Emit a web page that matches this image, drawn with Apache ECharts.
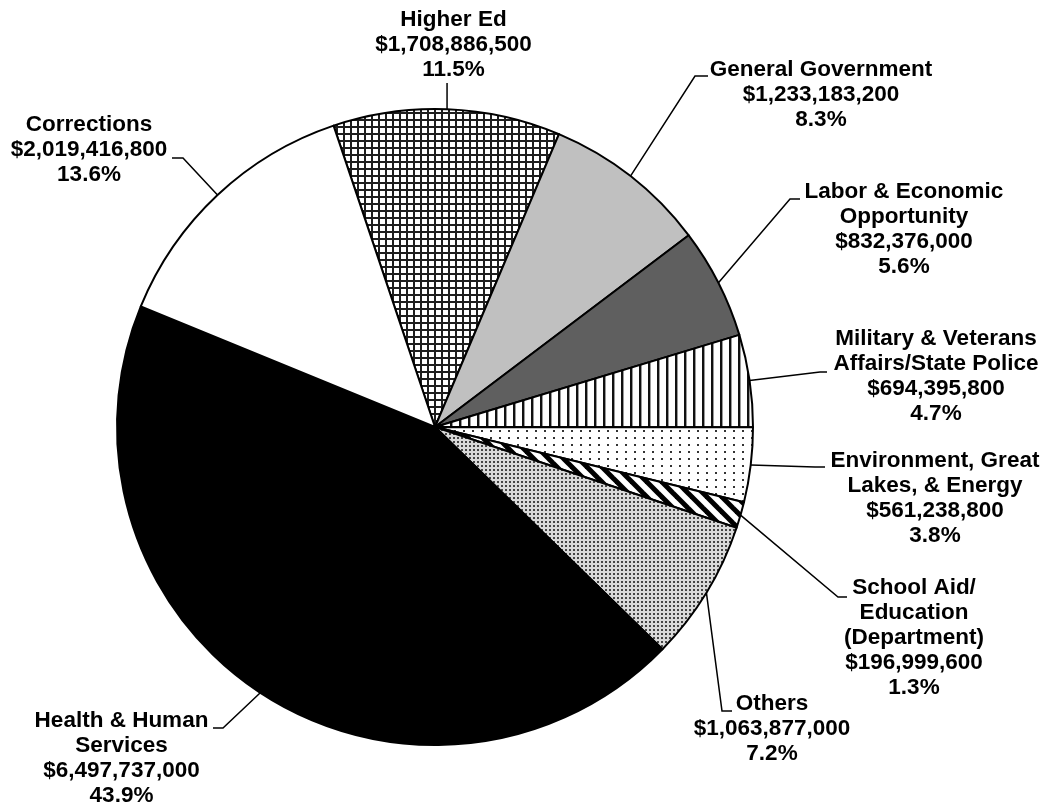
<!DOCTYPE html>
<html>
<head>
<meta charset="utf-8">
<script src="https://cdn.jsdelivr.net/npm/echarts@6/dist/echarts.min.js"></script>
<style>
  html, body { margin: 0; padding: 0; background: #ffffff; }
  #chart { width: 1049px; height: 808px; }
</style>
</head>
<body>
<div id="chart"></div>
<script>
// ---------------- DATA ----------------
const categories = [
  "Higher Ed",
  "General Government",
  "Labor & Economic\nOpportunity",
  "Military & Veterans\nAffairs/State Police",
  "Environment, Great\nLakes, & Energy",
  "School Aid/\nEducation\n(Department)",
  "Others",
  "Health & Human\nServices",
  "Corrections"
];
const amounts = [
  1708886500,
  1233183200,
  832376000,
  694395800,
  561238800,
  196999600,
  1063877000,
  6497737000,
  2019416800
];

// ---------------- STYLE / LAYOUT ----------------
function tile(w, h, draw) {
  const c = document.createElement('canvas');
  c.width = w; c.height = h;
  const g = c.getContext('2d');
  g.fillStyle = '#ffffff';
  g.fillRect(0, 0, w, h);
  draw(g, w, h);
  return { image: c, repeat: 'repeat' };
}
const fills = [
  // Higher Ed: crosshatch grid
  tile(7, 7, function (g) { g.fillStyle = '#1e1e1e'; g.fillRect(0, 0, 7, 2); g.fillRect(0, 0, 2, 7); }),
  // General Government: light gray
  '#c0c0c0',
  // Labor: dark gray
  '#5f5f5f',
  // Military: vertical lines
  tile(9, 9, function (g) { g.fillStyle = '#111'; g.fillRect(0, 0, 2, 9); g.fillStyle = '#999'; g.fillRect(2, 0, 1, 9); }),
  // Environment: sparse dots
  tile(9, 7, function (g) { g.fillStyle = '#333'; g.fillRect(4, 3, 2, 2); }),
  // School aid: thick diagonal stripes
  tile(15, 15, function (g) {
    g.strokeStyle = '#000'; g.lineWidth = 5;
    [-15, 0, 15].forEach(function (k) { g.beginPath(); g.moveTo(-2, -2 + k); g.lineTo(17, 17 + k); g.stroke(); });
  }),
  // Others: dense dots
  tile(4, 4, function (g) { g.fillStyle = '#d9d9d9'; g.fillRect(0, 0, 4, 4); g.fillStyle = '#444'; g.fillRect(1, 1, 2, 2); }),
  // Health & Human Services: black
  '#000000',
  // Corrections: white
  '#ffffff'
];

// label block: center x, top y; leader elbow and end points
const labelLayoutSpec = [
  { cx: 453.5, top: 7,     vertical: true, endY: 83 },
  { cx: 821,   top: 57.5,  elbow: [695, 76],  end: [708, 76] },
  { cx: 904,   top: 179.5, elbow: [790, 199], end: [800, 199] },
  { cx: 936,   top: 326.5, elbow: [820, 372], end: [827, 372] },
  { cx: 935,   top: 448.5, elbow: [815, 467], end: [825, 467] },
  { cx: 914,   top: 575.5, elbow: [838, 597], end: [847, 597] },
  { cx: 772,   top: 691.5, elbow: [722, 711], end: [732, 711] },
  { cx: 121.5, top: 708,   elbow: [223, 728], end: [213, 728] },
  { cx: 89,    top: 112,   elbow: [183, 158], end: [172, 158] }
];

const total = amounts.reduce(function (s, v) { return s + v; }, 0);
function money(v) { return '$' + v.toString().replace(/\B(?=(\d{3})+(?!\d))/g, ','); }

const seriesData = categories.map(function (name, i) {
  return { name: name, value: amounts[i], itemStyle: { color: fills[i] } };
});

const chart = echarts.init(document.getElementById('chart'), null, { renderer: 'canvas' });
chart.setOption({
  animation: false,
  backgroundColor: '#ffffff',
  series: [{
    type: 'pie',
    center: [435, 427],
    radius: 318,
    startAngle: 108.6,
    clockwise: true,
    avoidLabelOverlap: false,
    silent: true,
    emphasis: { disabled: true },
    itemStyle: { borderColor: '#000000', borderWidth: 2 },
    label: {
      show: true,
      position: 'outside',
      color: '#000000',
      fontFamily: 'Liberation Sans, Arial, sans-serif',
      fontWeight: 'bold',
      fontSize: 22.5,
      lineHeight: 25,
      width: 320,
      overflow: 'none',
      align: 'center',
      formatter: function (p) {
        return p.name + '\n' + money(p.value) + '\n' + (p.value / total * 100).toFixed(1) + '%';
      }
    },
    labelLine: {
      show: true,
      length: 20,
      length2: 10,
      lineStyle: { color: '#000000', width: 1.5 }
    },
    labelLayout: function (p) {
      const L = labelLayoutSpec[p.dataIndex];
      const start = (p.labelLinePoints && p.labelLinePoints[0]) || (L.elbow || [L.cx, L.endY]);
      let elbow, end;
      if (L.vertical) {
        elbow = [start[0], L.endY];
        end = [start[0], L.endY];
      } else {
        elbow = L.elbow; end = L.end;
      }
      return {
        x: L.cx,
        y: L.top,
        align: 'center',
        verticalAlign: 'top',
        labelLinePoints: [start, elbow, end]
      };
    },
    data: seriesData
  }]
});
</script>
</body>
</html>
